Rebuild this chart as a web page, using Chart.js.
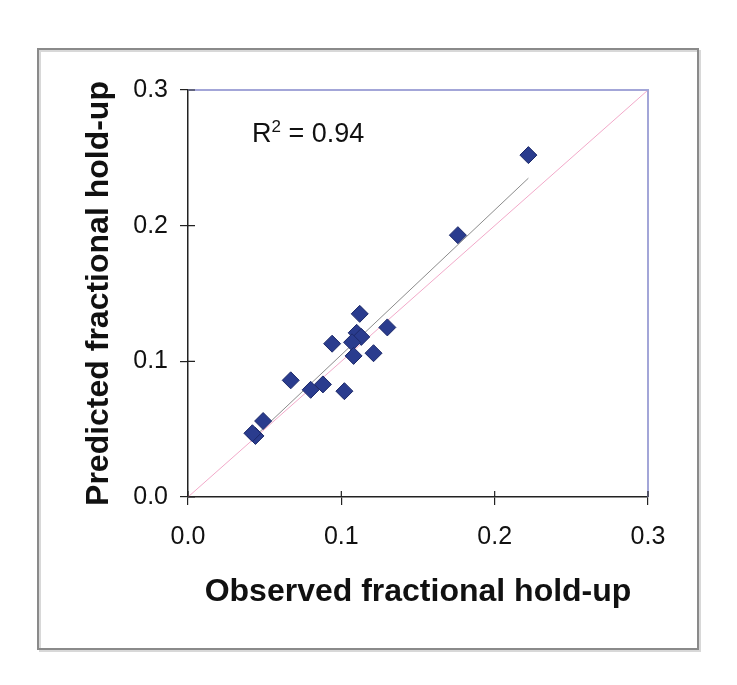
<!DOCTYPE html>
<html>
<head>
<meta charset="utf-8">
<script src="https://cdn.jsdelivr.net/npm/chart.js@4"></script>
<style>
  html, body { margin: 0; padding: 0; background: #fff; }
  #wrap { width: 737px; height: 685px; }
</style>
</head>
<body>
<div id="wrap"><canvas id="holdupChart" width="737" height="685"></canvas></div>
<script>
// observed vs predicted fractional hold-up
var observed  = [0.222, 0.176, 0.112, 0.130, 0.094, 0.110, 0.113, 0.107, 0.108, 0.121, 0.067, 0.080, 0.088, 0.102, 0.049, 0.044, 0.042];
var predicted = [0.252, 0.193, 0.135, 0.125, 0.113, 0.121, 0.118, 0.114, 0.104, 0.106, 0.086, 0.079, 0.083, 0.078, 0.056, 0.045, 0.047];

// trendline end points and the 1:1 line
var trendX = [0.043, 0.222];
var trendY = [0.044, 0.235];
var parityX = [0.0, 0.3];
var parityY = [0.0, 0.3];

var tickValues = [0.0, 0.1, 0.2, 0.3];
var rSquaredText = '0.94';

var FONT = "'Liberation Sans', Arial, sans-serif";

function toPoints(xs, ys) {
    return xs.map(function(x, i) { return { x: x, y: ys[i] }; });
}

// outer frame, top/right plot border, inner tick marks and R² label
var decorations = {
    id: 'decorations',
    beforeDraw: function(chart) {
        var ctx = chart.ctx;
        ctx.save();
        ctx.fillStyle = '#fff';
        ctx.fillRect(0, 0, chart.width, chart.height);
        ctx.strokeStyle = '#d8d8d8';
        ctx.lineWidth = 2;
        ctx.strokeRect(40, 51, 660, 600);
        ctx.strokeStyle = '#8a8a8a';
        ctx.lineWidth = 2;
        ctx.strokeRect(38, 49, 660, 600);
        ctx.restore();
    },
    afterDatasetsDraw: function(chart) {
        var ctx = chart.ctx;
        var a = chart.chartArea;
        var xs = chart.scales.x, ys = chart.scales.y;
        ctx.save();
        ctx.strokeStyle = '#a3a6d8';
        ctx.lineWidth = 2;
        ctx.beginPath();
        ctx.moveTo(a.left, a.top);
        ctx.lineTo(a.right, a.top);
        ctx.lineTo(a.right, a.bottom);
        ctx.stroke();

        ctx.strokeStyle = '#222';
        ctx.lineWidth = 1.2;
        ctx.beginPath();
        tickValues.forEach(function(v) {
            var px = xs.getPixelForValue(v);
            ctx.moveTo(px, a.bottom);
            ctx.lineTo(px, a.bottom - 6);
            var py = ys.getPixelForValue(v);
            ctx.moveTo(a.left, py);
            ctx.lineTo(a.left + 7, py);
        });
        ctx.stroke();

        ctx.fillStyle = '#111';
        ctx.textBaseline = 'alphabetic';
        ctx.textAlign = 'left';
        ctx.font = '27px ' + FONT;
        var x0 = 252, base = 142;
        ctx.fillText('R', x0, base);
        var w = ctx.measureText('R').width;
        ctx.font = '17px ' + FONT;
        ctx.fillText('2', x0 + w, base - 10);
        var w2 = ctx.measureText('2').width;
        ctx.font = '27px ' + FONT;
        ctx.fillText(' = ' + rSquaredText, x0 + w + w2, base);
        ctx.restore();
    }
};

var ctx = document.getElementById('holdupChart').getContext('2d');
var holdupChart = new Chart(ctx, {
    type: 'scatter',
    data: {
        datasets: [{
            label: 'Hold-up',
            data: toPoints(observed, predicted),
            pointStyle: 'rectRot',
            pointRadius: 8.5,
            pointHoverRadius: 8.5,
            backgroundColor: '#2a3c8e',
            borderColor: '#1d2a6a',
            borderWidth: 1,
            order: 0
        }, {
            label: 'Trend',
            data: toPoints(trendX, trendY),
            showLine: true,
            borderColor: '#8c8c8c',
            borderWidth: 1,
            pointRadius: 0,
            order: 1
        }, {
            label: 'Parity',
            data: toPoints(parityX, parityY),
            showLine: true,
            borderColor: '#f2a9c9',
            borderWidth: 1,
            pointRadius: 0,
            order: 2
        }]
    },
    options: {
        responsive: false,
        animation: false,
        events: [],
        layout: { padding: { left: 38, top: 90, right: 89, bottom: 68 } },
        plugins: {
            legend: { display: false },
            tooltip: { enabled: false }
        },
        scales: {
            x: {
                type: 'linear',
                min: 0, max: 0.3,
                afterFit: function(scale) { scale.height = 120; },
                afterBuildTicks: function(scale) {
                    scale.ticks = tickValues.map(function(v) { return { value: v }; });
                },
                ticks: {
                    color: '#111',
                    font: { family: FONT, size: 25 },
                    padding: 17,
                    maxRotation: 0,
                    callback: function(v) { return Number(v).toFixed(1); }
                },
                grid: { drawOnChartArea: false, color: '#222', tickLength: 8, lineWidth: 1.2 },
                border: { color: '#222', width: 1.5 },
                title: {
                    display: true,
                    text: 'Observed fractional hold-up',
                    color: '#111',
                    font: { family: FONT, size: 32, weight: 'bold' },
                    padding: { top: 0, bottom: 6 }
                }
            },
            y: {
                type: 'linear',
                min: 0, max: 0.3,
                afterFit: function(scale) { scale.width = 150; },
                afterBuildTicks: function(scale) {
                    scale.ticks = tickValues.map(function(v) { return { value: v }; });
                },
                ticks: {
                    color: '#111',
                    font: { family: FONT, size: 25 },
                    padding: 12,
                    callback: function(v) { return Number(v).toFixed(1); }
                },
                grid: { drawOnChartArea: false, color: '#222', tickLength: 8, lineWidth: 1.2 },
                border: { color: '#222', width: 1.5 },
                title: {
                    display: true,
                    text: 'Predicted fractional hold-up',
                    color: '#111',
                    font: { family: FONT, size: 32, weight: 'bold' },
                    padding: { top: 42, bottom: 0 }
                }
            }
        }
    },
    plugins: [decorations]
});
</script>
</body>
</html>
